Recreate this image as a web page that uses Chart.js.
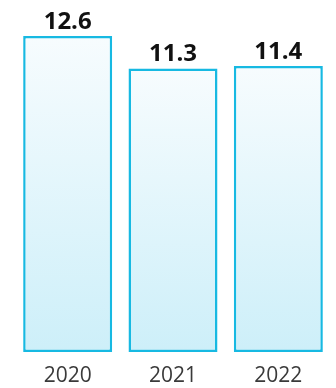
<!DOCTYPE html>
<html>
<head>
<meta charset="utf-8">
<script src="https://cdn.jsdelivr.net/npm/chart.js@4"></script>
<style>
  html, body { margin: 0; padding: 0; background: #fff; }
  #wrap { width: 336px; height: 388px; }
</style>
</head>
<body>
<div id="wrap"><canvas id="grafico"></canvas></div>
<script>
// Dados do gráfico
const anos = ['2020', '2021', '2022'];
const valores = [12.6, 11.3, 11.4];

// Gradiente por barra: quase branco no topo, ciano claro na base
function fundoBarra(ctx) {
  const chart = ctx.chart;
  const area = chart.chartArea;
  if (!area) return '#e6f7fc';
  const y = chart.scales.y;
  const topo = y.getPixelForValue(ctx.raw);
  const base = y.getPixelForValue(0);
  const g = chart.ctx.createLinearGradient(0, topo, 0, base);
  g.addColorStop(0, '#f7fcfe');
  g.addColorStop(1, '#cdeff9');
  return g;
}

// Rótulos de valor acima de cada barra
const rotulos = {
  id: 'rotulos',
  afterDatasetsDraw(chart) {
    const { ctx } = chart;
    const meta = chart.getDatasetMeta(0);
    ctx.save();
    ctx.font = 'bold 24px "Open Sans", sans-serif';
    ctx.fillStyle = '#111';
    ctx.textAlign = 'center';
    ctx.textBaseline = 'bottom';
    meta.data.forEach((bar, i) => {
      ctx.fillText(valores[i].toFixed(1), bar.x, bar.y - 2);
    });
    ctx.restore();
  }
};

new Chart(document.getElementById('grafico'), {
  type: 'bar',
  data: {
    labels: anos,
    datasets: [{
      data: valores,
      backgroundColor: fundoBarra,
      borderColor: '#17b9e2',
      borderWidth: 2.5,
      borderSkipped: false,
      categoryPercentage: 1,
      barPercentage: 0.845
    }]
  },
  options: {
    responsive: true,
    maintainAspectRatio: false,
    animation: false,
    layout: { padding: { top: 36, left: 15, right: 5, bottom: 0 } },
    plugins: { legend: { display: false }, tooltip: { enabled: false } },
    scales: {
      x: {
        grid: { display: false },
        border: { display: false },
        afterFit(scale) { scale.height = 36; },
        ticks: {
          padding: 3,
          color: '#3a3a3a',
          font: { family: '"Open Sans", sans-serif', size: 21 }
        }
      },
      y: { display: false, min: 0, max: 12.6 }
    }
  },
  plugins: [rotulos]
});
</script>
</body>
</html>
